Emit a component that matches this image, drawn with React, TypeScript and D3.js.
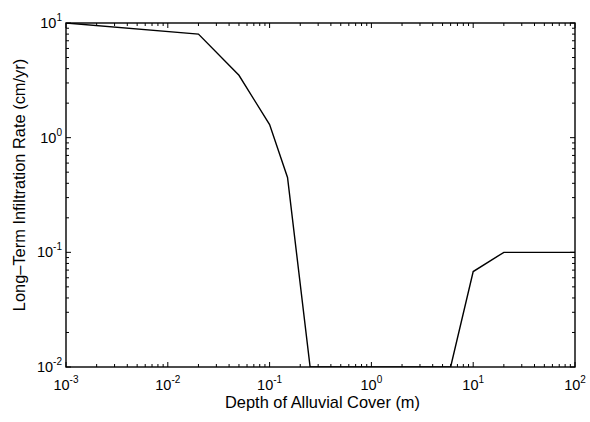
import React, { useEffect, useRef } from 'react';
import * as d3 from 'd3';

// depth of alluvial cover (m) and long-term infiltration rate (cm/yr)
const depth = [0.001, 0.02, 0.05, 0.1, 0.15, 0.25, 6, 10, 20, 100];
const rate = [10, 8, 3.5, 1.3, 0.45, 0.01, 0.01, 0.068, 0.1, 0.1];

const xDecades = [-3, -2, -1, 0, 1, 2];
const yDecades = [-2, -1, 0, 1];

const xLabel = 'Depth of Alluvial Cover (m)';
const yLabel = 'Long\u2013Term Infiltration Rate (cm/yr)';

const W = 590;
const H = 422;
const margin = { top: 23, left: 66, bottom: 55, right: 15 };
const FONT = '"Liberation Sans", Arial, Helvetica, sans-serif';

export default function App() {
    const ref = useRef<SVGSVGElement>(null);

    useEffect(() => {
        const svg = d3.select(ref.current);
        svg.selectAll('*').remove();

        const x = d3.scaleLog()
            .domain([1e-3, 1e2])
            .range([margin.left, W - margin.right]);
        const y = d3.scaleLog()
            .domain([1e-2, 1e1])
            .range([H - margin.bottom, margin.top]);

        const x0 = x.range()[0], x1 = x.range()[1];
        const y0 = y.range()[0], y1 = y.range()[1];

        // minor + major tick values
        let xTicks: { v: number, major: boolean }[] = [];
        xDecades.forEach((e, i) => {
            xTicks.push({ v: Math.pow(10, e), major: true });
            if (i < xDecades.length - 1)
                for (let k = 2; k < 10; ++k) xTicks.push({ v: k * Math.pow(10, e), major: false });
        });
        let yTicks: { v: number, major: boolean }[] = [];
        yDecades.forEach((e, i) => {
            yTicks.push({ v: Math.pow(10, e), major: true });
            if (i < yDecades.length - 1)
                for (let k = 2; k < 10; ++k) yTicks.push({ v: k * Math.pow(10, e), major: false });
        });

        const g = svg.append('g');
        const tickLen = (major: boolean) => major ? 5 : 3;

        // x ticks, bottom and top, pointing inward
        xTicks.forEach(t => {
            const px = x(t.v);
            g.append('line').attr('x1', px).attr('x2', px)
                .attr('y1', y0).attr('y2', y0 - tickLen(t.major))
                .attr('stroke', 'black').attr('stroke-width', 1);
            g.append('line').attr('x1', px).attr('x2', px)
                .attr('y1', y1).attr('y2', y1 + tickLen(t.major))
                .attr('stroke', 'black').attr('stroke-width', 1);
        });
        yTicks.forEach(t => {
            const py = y(t.v);
            g.append('line').attr('x1', x0).attr('x2', x0 + tickLen(t.major))
                .attr('y1', py).attr('y2', py)
                .attr('stroke', 'black').attr('stroke-width', 1);
            g.append('line').attr('x1', x1).attr('x2', x1 - tickLen(t.major))
                .attr('y1', py).attr('y2', py)
                .attr('stroke', 'black').attr('stroke-width', 1);
        });

        // frame
        g.append('rect')
            .attr('x', x0).attr('y', y1)
            .attr('width', x1 - x0).attr('height', y0 - y1)
            .attr('fill', 'none').attr('stroke', 'black').attr('stroke-width', 1.4);

        // x tick labels 10^n
        xDecades.forEach(e => {
            const t = g.append('text')
                .attr('x', x(Math.pow(10, e)))
                .attr('y', y0 + 23)
                .attr('font-family', FONT)
                .attr('font-size', 14.5)
                .attr('text-anchor', 'middle');
            t.append('tspan').text('10');
            t.append('tspan').attr('dy', -7).attr('font-size', 10).text(String(e));
        });
        // y tick labels
        yDecades.forEach(e => {
            const t = g.append('text')
                .attr('x', x0 - 4)
                .attr('y', y(Math.pow(10, e)) + 5)
                .attr('font-family', FONT)
                .attr('font-size', 14.5)
                .attr('text-anchor', 'end');
            t.append('tspan').text('10');
            t.append('tspan').attr('dy', -7).attr('font-size', 10).text(String(e));
        });

        // axis titles
        g.append('text')
            .attr('x', (x0 + x1) / 2 + 2)
            .attr('y', y0 + 41)
            .attr('font-family', FONT)
            .attr('font-size', 16.4)
            .attr('text-anchor', 'middle')
            .text(xLabel);
        g.append('text')
            .attr('transform', `translate(25,${(y0 + y1) / 2 - 10}) rotate(-90)`)
            .attr('font-family', FONT)
            .attr('font-size', 16.4)
            .attr('text-anchor', 'middle')
            .text(yLabel);

        // data line, clipped to the plot area
        svg.append('clipPath').attr('id', 'plotClip')
            .append('rect')
            .attr('x', x0).attr('y', y1)
            .attr('width', x1 - x0).attr('height', y0 - y1);

        const line = d3.line<number>()
            .x((d, i) => x(depth[i]))
            .y(d => y(d));
        svg.append('path')
            .attr('clip-path', 'url(#plotClip)')
            .attr('d', line(rate))
            .attr('fill', 'none')
            .attr('stroke', 'black')
            .attr('stroke-width', 1.4);
    }, []);

    return (
        <svg ref={ref} width={W} height={H}
            style={{ position: 'absolute', left: 0, top: 0, background: 'white' }} />
    );
}
